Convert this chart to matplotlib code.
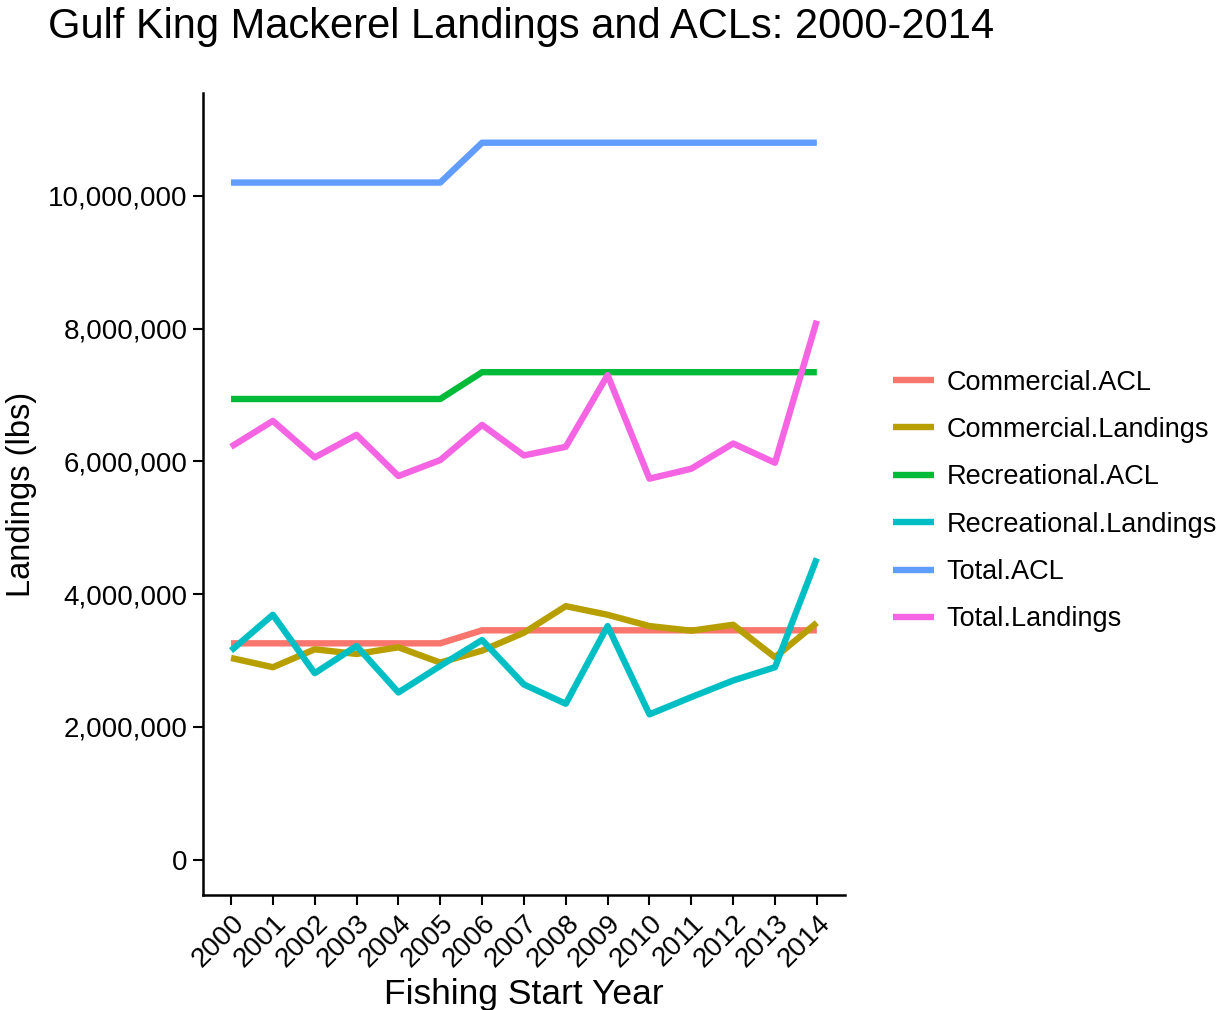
import numpy as np
import matplotlib
matplotlib.use("Agg")
import matplotlib.pyplot as plt
from matplotlib.ticker import FuncFormatter

plt.rcParams['font.family'] = ['Liberation Sans', 'DejaVu Sans']

# Data
years = list(range(2000, 2015))
commercial_acl = [3.26e6] * 6 + [3.456e6] * 9
commercial_landings = [3.04e6, 2.90e6, 3.17e6, 3.10e6, 3.20e6, 2.97e6, 3.15e6, 3.42e6,
                       3.82e6, 3.69e6, 3.52e6, 3.45e6, 3.54e6, 3.05e6, 3.57e6]
recreational_acl = [6.94e6] * 6 + [7.344e6] * 9
recreational_landings = [3.15e6, 3.69e6, 2.81e6, 3.22e6, 2.52e6, 2.92e6, 3.31e6, 2.64e6,
                         2.35e6, 3.52e6, 2.19e6, 2.45e6, 2.70e6, 2.90e6, 4.54e6]
total_acl = [10.2e6] * 6 + [10.8e6] * 9
total_landings = [6.22e6, 6.61e6, 6.06e6, 6.40e6, 5.78e6, 6.02e6, 6.55e6, 6.09e6,
                  6.22e6, 7.30e6, 5.74e6, 5.89e6, 6.27e6, 5.98e6, 8.12e6]

series = [
    ("Commercial.ACL", commercial_acl, "#F8766D"),
    ("Commercial.Landings", commercial_landings, "#B79F00"),
    ("Recreational.ACL", recreational_acl, "#00BA38"),
    ("Recreational.Landings", recreational_landings, "#00BFC4"),
    ("Total.ACL", total_acl, "#619CFF"),
    ("Total.Landings", total_landings, "#F564E3"),
]

fig = plt.figure(figsize=(12.28, 10.10), dpi=100)
ax = fig.add_axes([0.1653, 0.1139, 0.688 - 0.1653, 0.908 - 0.1139])

handles = []
for name, vals, col in series:
    h, = ax.plot(years, vals, color=col, lw=4.6, solid_capstyle='butt', label=name)
    handles.append(h)

ax.set_xlim(1999.33, 2014.67)
ax.set_ylim(-0.53e6, 11.55e6)
ax.set_xticks(years)
ax.set_xticklabels([str(y) for y in years], rotation=45, ha='right', va='top',
                   rotation_mode='anchor')
ax.set_yticks([0, 2e6, 4e6, 6e6, 8e6, 1e7])
ax.yaxis.set_major_formatter(FuncFormatter(lambda v, p: f"{int(v):,}"))

for s in ['top', 'right']:
    ax.spines[s].set_visible(False)
for s in ['left', 'bottom']:
    ax.spines[s].set_linewidth(1.8)
    ax.spines[s].set_color('black')
ax.tick_params(axis='both', length=7, width=1.5, colors='black', labelsize=20, pad=4)

ax.set_xlabel("Fishing Start Year", fontsize=25.5, labelpad=4)
ax.set_ylabel("Landings (lbs)", fontsize=23.5, labelpad=8)

fig.text(48 / 1228, 1 - 27 / 1010, "Gulf King Mackerel Landings and ACLs: 2000-2014",
         fontsize=30, ha='left', va='center')

leg = fig.legend(handles=handles, loc='center left', bbox_to_anchor=(893 / 1228, 1 - 501 / 1010),
                 frameon=False, fontsize=19.5, handlelength=1.5, handletextpad=0.48,
                 labelspacing=0.79, borderpad=0, borderaxespad=0)
for line in leg.get_lines():
    line.set_linewidth(4.6)

fig.savefig("out.png", dpi=100)
